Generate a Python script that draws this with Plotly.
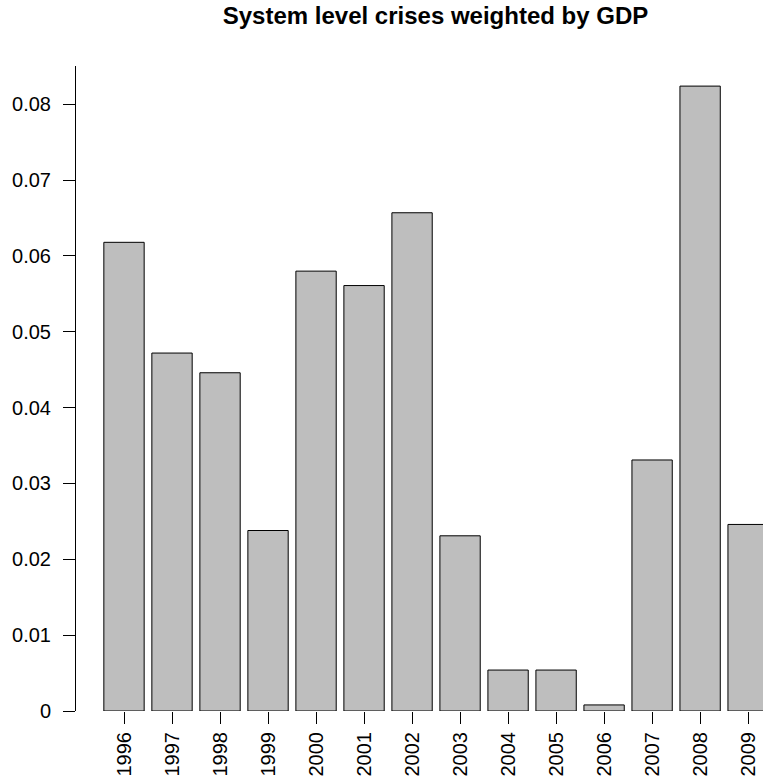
import plotly.graph_objects as go

years = ["1996", "1997", "1998", "1999", "2000", "2001", "2002",
         "2003", "2004", "2005", "2006", "2007", "2008", "2009"]
values = [0.0618, 0.0472, 0.0446, 0.0238, 0.0580, 0.0561, 0.0657,
          0.0231, 0.0054, 0.0054, 0.0008, 0.0331, 0.0824, 0.0246]
y_ticks = [0, 0.01, 0.02, 0.03, 0.04, 0.05, 0.06, 0.07, 0.08]
y_tick_labels = ["0", "0.01", "0.02", "0.03", "0.04", "0.05", "0.06", "0.07", "0.08"]
title = "System level crises weighted by GDP"

FONT = "Liberation Sans, Arial, Helvetica, sans-serif"

fig = go.Figure(go.Bar(
    x=years, y=values,
    marker=dict(color="#BEBEBE", line=dict(color="black", width=1)),
    hoverinfo="skip",
))

W, H = 763, 784
fig.update_layout(
    width=W, height=H, autosize=False,
    margin=dict(l=76, r=0, t=66, b=73, pad=0),
    paper_bgcolor="white", plot_bgcolor="white",
    bargap=0.16,
    showlegend=False,
    font=dict(family=FONT, size=20, color="black"),
    title=dict(text="<b>" + title + "</b>", font=dict(family=FONT, size=24, color="black"),
               x=435.5 / W, xanchor="center", xref="container",
               y=1 - 16 / H, yanchor="middle", yref="container"),
)
fig.update_xaxes(
    type="category", range=[-1.0, 13.31],
    showline=False, showgrid=False, zeroline=False,
    ticks="outside", ticklen=12, tickwidth=1, tickcolor="black",
    tickangle=-90, tickfont=dict(family=FONT, size=20, color="black"),
    fixedrange=True,
)
fig.update_yaxes(
    range=[0, 0.08505],
    showline=True, linecolor="black", linewidth=1,
    showgrid=False, zeroline=False,
    ticks="outside", ticklen=12, tickwidth=1, tickcolor="black",
    tickvals=y_ticks, ticktext=y_tick_labels,
    tickfont=dict(family=FONT, size=20, color="black"),
    ticklabelstandoff=8,
    fixedrange=True,
)

fig.write_html("out.html", config={"displayModeBar": False, "staticPlot": True},
               post_script="document.body.style.margin='0px';document.body.style.overflow='hidden';")
